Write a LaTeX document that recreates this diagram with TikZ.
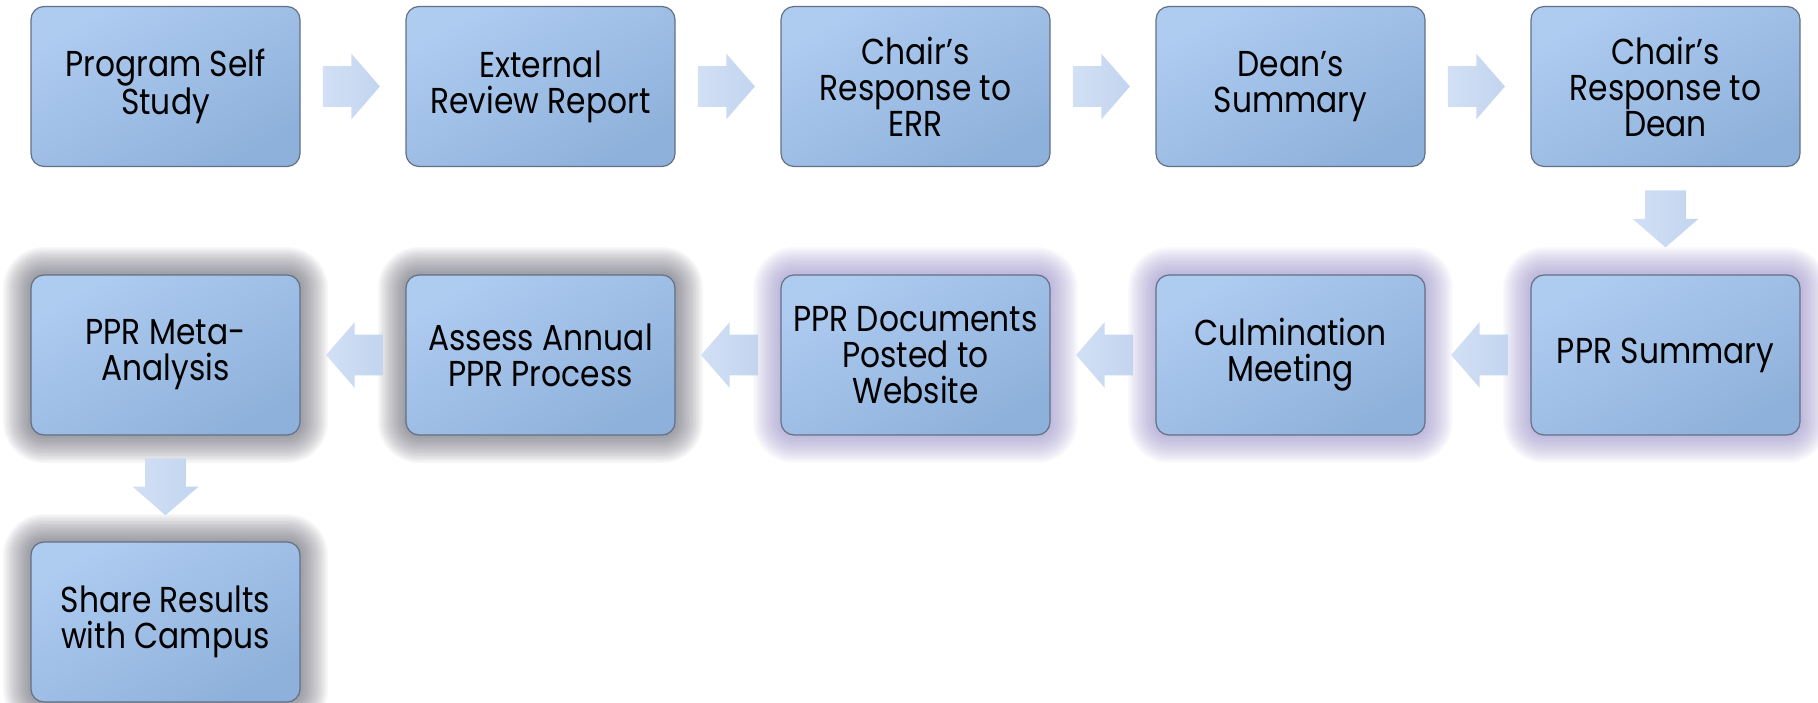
\documentclass[tikz,border=0pt]{standalone}
\usepackage{fontspec}
\setmainfont{Poppins}[FakeStretch=0.87]
\usetikzlibrary{shapes.arrows}

\definecolor{boxlight}{RGB}{174,203,240}
\definecolor{boxdark}{RGB}{142,177,219}
\definecolor{boxline}{RGB}{100,112,132}
\definecolor{arrowlight}{RGB}{210,224,245}
\definecolor{arrowdark}{RGB}{194,212,239}
\definecolor{glowgrey}{RGB}{80,80,95}
\definecolor{glowpurple}{RGB}{139,130,192}

\tikzset{
	stage/.style={draw=boxline, line width=0.6pt, rounded corners=6.5pt,
		minimum width=134.5pt, minimum height=80pt, inner sep=0pt, align=center,
		font=\fontsize{18}{18}\selectfont,
		top color=boxlight, bottom color=boxdark, shading angle=30},
	halo/.style={rounded corners=#1, inner sep=0pt, opacity=0.04},
	flow/.style={single arrow, single arrow head extend=6.25pt, single arrow tip angle=98,
		minimum height=28.5pt, inner xsep=0pt, inner ysep=10pt,
		left color=arrowlight, right color=arrowdark, sloped, allow upside down}
}

\begin{document}
\begin{tikzpicture}[x=0.5pt, y=-0.5pt]
		\useasboundingbox (0,0) rectangle (1818,702);
		
		\coordinate (cSelf) at (165.5, 86.5);
		\coordinate (cErr) at (540.5, 86.5);
		\coordinate (cChair) at (915.5, 86.5);
		\coordinate (cDean) at (1290.5, 86.5);
		\coordinate (cReply) at (1665.5, 86.5);
		\coordinate (cMeta) at (165.5, 355);
		\coordinate (cAssess) at (540.5, 355);
		\coordinate (cDocs) at (915.5, 355);
		\coordinate (cCulm) at (1290.5, 355);
		\coordinate (cSum) at (1665.5, 355);
		\coordinate (cShare) at (165.5, 622);
		
		% glow behind the second and third rows
		\foreach \c/\col in {cMeta/glowgrey, cAssess/glowgrey, cShare/glowgrey,
			cDocs/glowpurple, cCulm/glowpurple, cSum/glowpurple} {
			\foreach \i in {1,...,20} {
				\pgfmathsetmacro\r{6.5+0.7*\i}
				\node[halo=\r pt, fill=\col, minimum width=134.5pt+1.4pt*\i,
					minimum height=80pt+1.4pt*\i] at (\c) {};
			}
		}
		
		\node[stage] (self) at (cSelf) {Program Self\\Study};
		\node[stage] (err) at (cErr) {External\\Review Report};
		\node[stage] (chair) at (cChair) {Chair’s\\Response to\\ERR};
		\node[stage] (dean) at (cDean) {Dean’s\\Summary};
		\node[stage] (reply) at (cReply) {Chair’s\\Response to\\Dean};
		\node[stage] (sum) at (cSum) {PPR Summary};
		\node[stage] (culm) at (cCulm) {Culmination\\Meeting};
		\node[stage] (docs) at (cDocs) {PPR Documents\\Posted to\\Website};
		\node[stage] (assess) at (cAssess) {Assess Annual\\PPR Process};
		\node[stage] (meta) at (cMeta) {PPR Meta-\\Analysis};
		\node[stage] (share) at (cShare) {Share Results\\with Campus};
		
		\foreach \s/\t in {self/err, err/chair, chair/dean, dean/reply, reply/sum,
			sum/culm, culm/docs, docs/assess, assess/meta, meta/share} {
			\path (\s) -- node[flow, pos=0.4] {} (\t);
		}
	
	\end{tikzpicture}
\end{document}
